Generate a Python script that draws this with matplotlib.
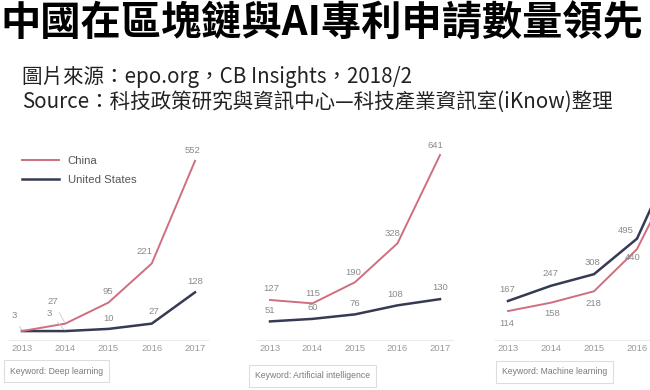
import matplotlib
matplotlib.use("Agg")
import matplotlib.pyplot as plt

plt.rcParams['font.family'] = ['Noto Sans CJK TC', 'DejaVu Sans']

title = "中國在區塊鏈與AI專利申請數量領先"
source1 = "圖片來源：epo.org，CB Insights，2018/2"
source2 = "Source：科技政策研究與資訊中心—科技產業資訊室(iKnow)整理"

years = [2013, 2014, 2015, 2016, 2017]
year_labels = ["2013", "2014", "2015", "2016", "2017"]
series_names = ["China", "United States"]

deep_china = [3, 27, 95, 221, 552]
deep_us = [3, 3, 10, 27, 128]
ai_china = [127, 115, 190, 328, 641]
ai_us = [51, 60, 76, 108, 130]
ml_china = [114, 158, 218, 440, 890]
ml_us = [167, 247, 308, 495, 990]

keywords = ["Keyword: Deep learning", "Keyword: Artificial intelligence", "Keyword: Machine learning"]

# styles
C_CHINA = '#cf6f7e'
C_US = '#363a52'
LBL = '#8a8a8a'

W, H = 650, 390
fig = plt.figure(figsize=(6.5, 3.9), dpi=100)
fig.patch.set_facecolor('white')

def px_axes(x2013, px_per_year, y0, scale, top=135, bottom=340):
    left = x2013 - 0.3 * px_per_year
    width = 4.6 * px_per_year
    ax = fig.add_axes([left / W, (H - bottom) / H, width / W, (bottom - top) / H])
    ax.set_xlim(2012.7, 2017.3)
    ax.set_ylim(-(bottom - y0) / scale, (y0 - top) / scale)
    return ax

panels = [
    dict(x=22, ppy=43.25, y0=332, s=0.31, china=deep_china, us=deep_us,
         china_off=[(-8, 16), (-12, 22), (-1, 11), (-7, 12), (-2, 10)],
         us_off=[None, (-16, 18), (0, 10), (2, 12), (0, 11)],
         china_lead=[True, True, False, False, False],
         us_lead=[False, True, False, False, False], nticks=5),
    dict(x=270, ppy=42.5, y0=335.8, s=0.282, china=ai_china, us=ai_us,
         china_off=[(1, 11), (0, 10), (-2, 10), (-5, 10), (-5, 10)],
         us_off=[(0, 11), (0, 11), (0, 11), (-2, 11), (0, 12)],
         china_lead=[False] * 5, us_lead=[False] * 5, nticks=5),
    dict(x=508, ppy=43, y0=332.7, s=0.19, china=ml_china, us=ml_us,
         china_off=[(-1, -12), (1, -11), (-1, -12), (-4, -8), None],
         us_off=[(-1, 11), (-1, 12), (-2, 12), (-11, 8), None],
         china_lead=[False] * 5, us_lead=[False] * 5, nticks=4),
]

axes = []
for p in panels:
    ax = px_axes(p['x'], p['ppy'], p['y0'], p['s'])
    axes.append(ax)
    ax.plot(years, p['china'], color=C_CHINA, lw=1.4, label=series_names[0], zorder=3)
    ax.plot(years, p['us'], color=C_US, lw=1.8, label=series_names[1], zorder=2)
    for vals, offs, leads in ((p['china'], p['china_off'], p['china_lead']),
                              (p['us'], p['us_off'], p['us_lead'])):
        for yr, v, off, lead in zip(years, vals, offs, leads):
            if off is None:
                continue
            kw = {}
            if lead:
                kw['arrowprops'] = dict(arrowstyle='-', color='#c8c8c8', lw=0.6,
                                        shrinkA=3, shrinkB=1)
            ax.annotate(str(v), (yr, v), xytext=off, textcoords='offset pixels',
                        ha='center', va='center', fontsize=6.8, color=LBL,
                        family=['Liberation Sans', 'DejaVu Sans'], **kw)
    n = p['nticks']
    ax.set_xticks(years[:n])
    ax.set_xticklabels(year_labels[:n], fontsize=6.8, color='#9a9a9a',
                       family=['Liberation Sans', 'DejaVu Sans'])
    ax.tick_params(axis='x', length=0, pad=3)
    ax.set_yticks([])
    for sp in ['top', 'left', 'right']:
        ax.spines[sp].set_visible(False)
    ax.spines['bottom'].set_color('#ececec')
    ax.spines['bottom'].set_linewidth(0.8)
    ax.set_facecolor('none')

leg = axes[0].legend(loc='upper left', bbox_to_anchor=(12 / W, 1 - 146 / H),
                     bbox_transform=fig.transFigure, frameon=False,
                     handlelength=3.2, labelspacing=0.75, handletextpad=0.8,
                     prop={'family': ['Liberation Sans', 'DejaVu Sans'], 'size': 8.2})
for t in leg.get_texts():
    t.set_color('#555555')

fig.text(0, 1 - 24 / H, title, fontsize=29, fontweight='bold', color='black',
         ha='left', va='center')
fig.text(22 / W, 1 - 77 / H, source1, fontsize=14.8, color='#222222',
         ha='left', va='center')
fig.text(22 / W, 1 - 102 / H, source2, fontsize=14.8, color='#222222',
         ha='left', va='center')

kw_pos = [(10, 371), (255, 376), (502, 372)]
for k, (kx, ky) in zip(keywords, kw_pos):
    fig.text(kx / W, 1 - ky / H, k, fontsize=6.2, color='#7a7a7a', ha='left', va='center',
             family=['Liberation Sans', 'DejaVu Sans'],
             bbox=dict(boxstyle='square,pad=0.7', fc='white', ec='#dddddd', lw=0.8))

fig.savefig('out.png', dpi=100)
